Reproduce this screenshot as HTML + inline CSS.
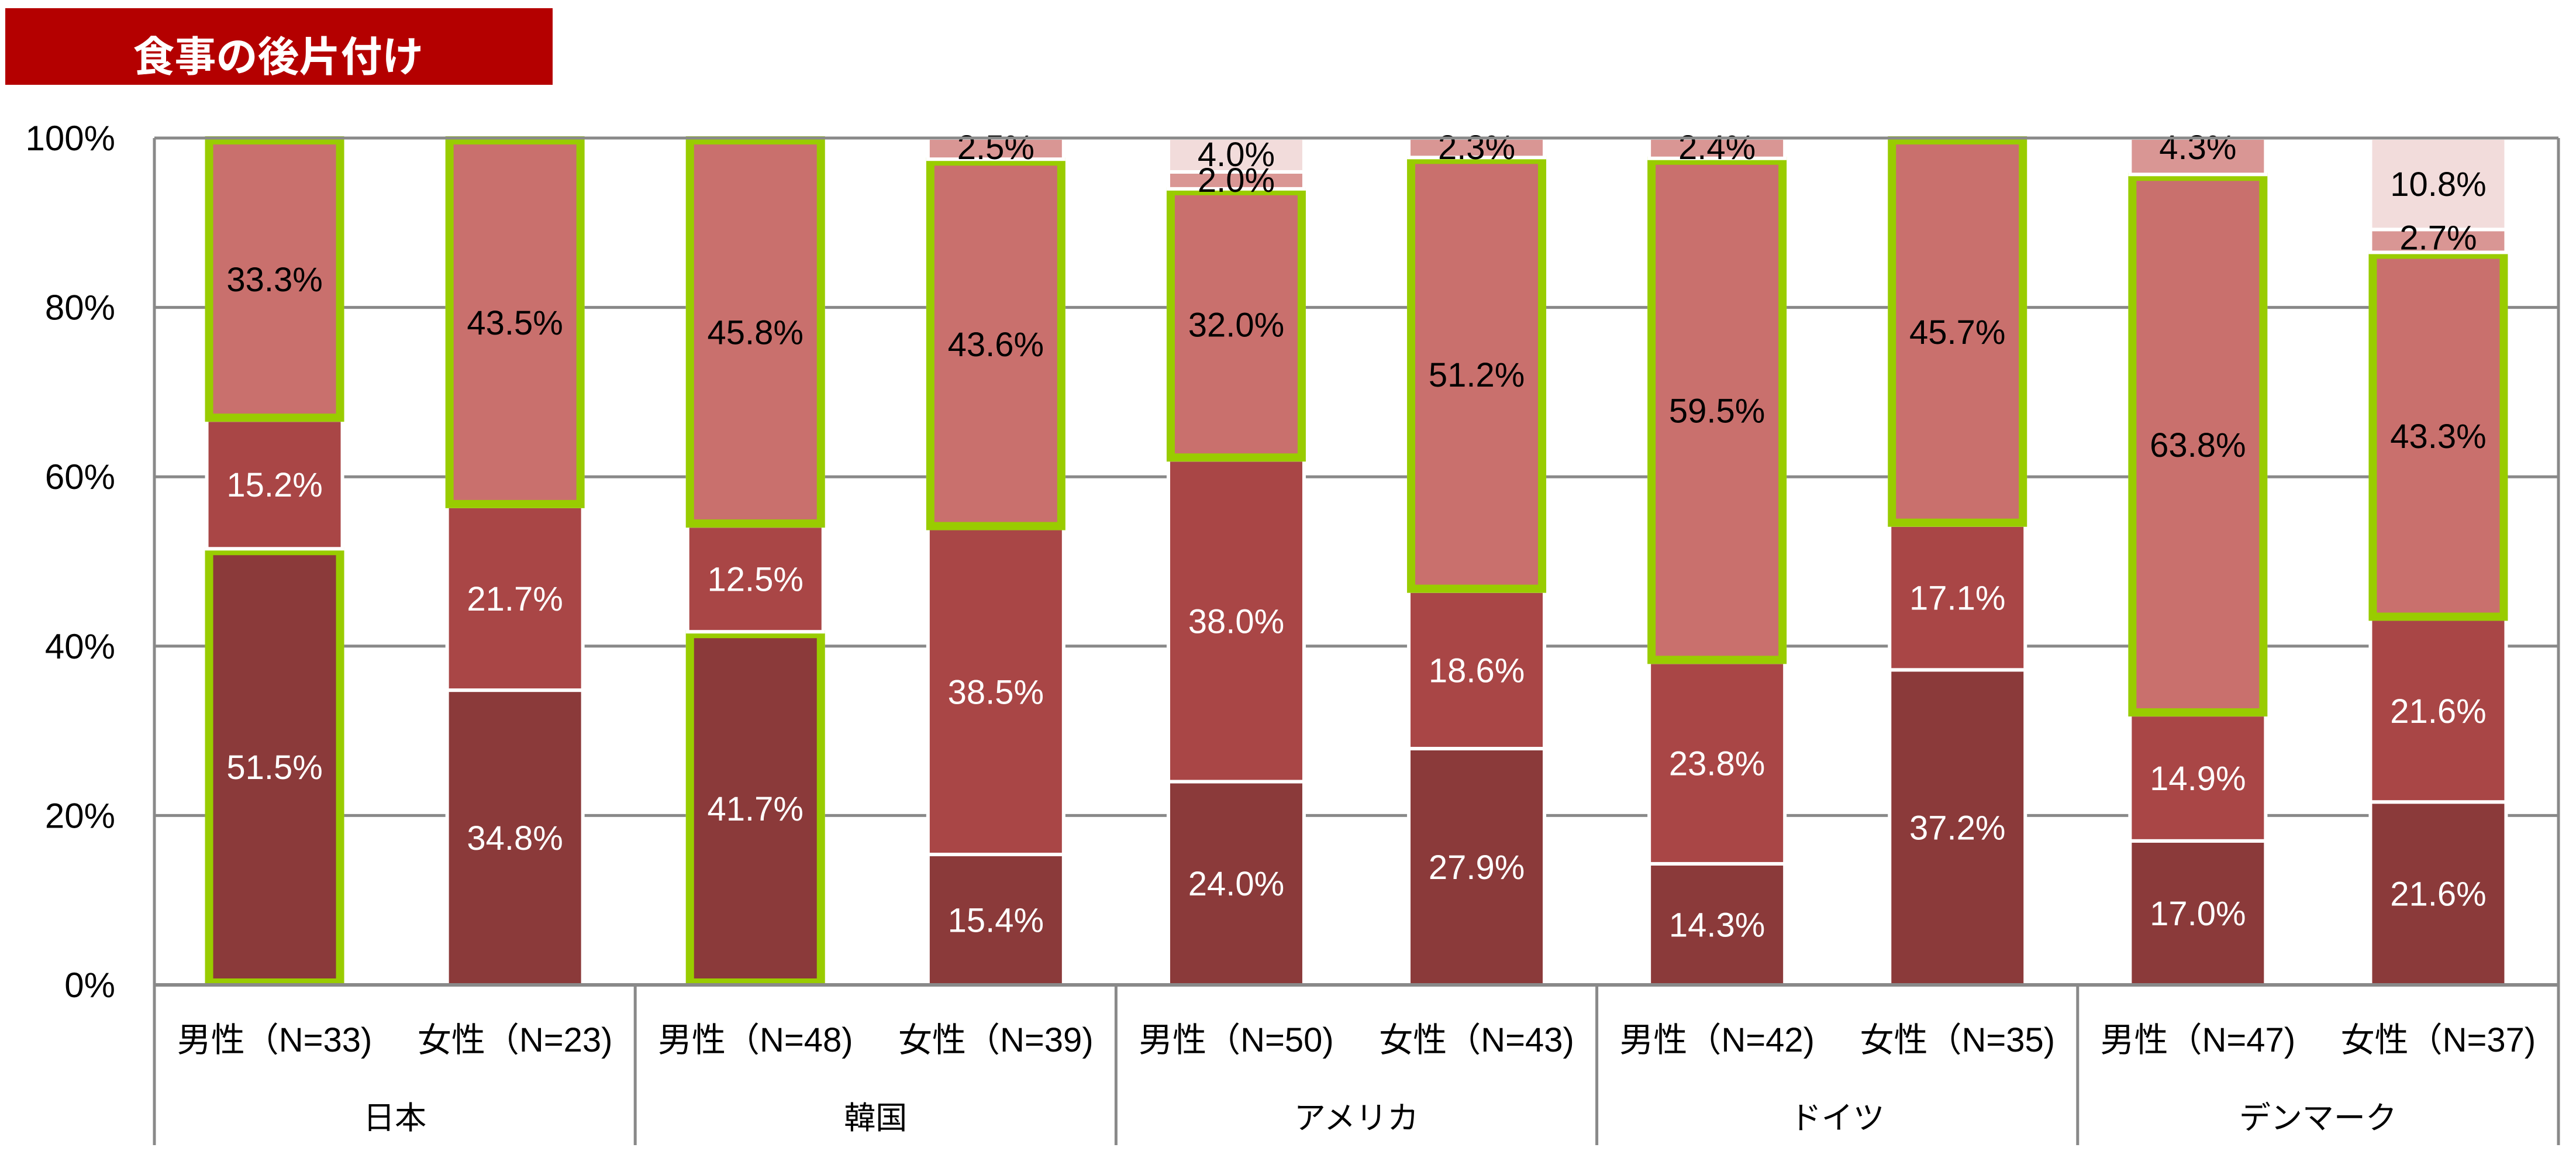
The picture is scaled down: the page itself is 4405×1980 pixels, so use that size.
<!DOCTYPE html>
<html><head><meta charset="utf-8"><style>
html,body{margin:0;padding:0;background:#fff;}
svg{display:block;}
text{font-family:"Liberation Sans","Noto Sans CJK JP",sans-serif;}
</style></head><body>
<svg id="chart" width="4405" height="1980" viewBox="0 0 4405 1980" xmlns="http://www.w3.org/2000/svg">
<rect x="9" y="14" width="936" height="131" fill="#B40000"/>
<text x="476" y="122" font-size="71" font-weight="bold" fill="#fff" text-anchor="middle" style="font-family:'Noto Sans CJK JP',sans-serif">食事の後片付け</text>
<g id="grid"></g><g id="bars"></g><g id="labels"></g><g id="axes"></g>
</svg>
<script>
const countries = ["日本","韓国","アメリカ","ドイツ","デンマーク"];
const subLabels = ["男性（N=33)","女性（N=23)","男性（N=48)","女性（N=39)","男性（N=50)","女性（N=43)","男性（N=42)","女性（N=35)","男性（N=47)","女性（N=37)"];
const series1 = [51.5,34.8,41.7,15.4,24.0,27.9,14.3,37.2,17.0,21.6];
const series2 = [15.2,21.7,12.5,38.5,38.0,18.6,23.8,17.1,14.9,21.6];
const series3 = [33.3,43.5,45.8,43.6,32.0,51.2,59.5,45.7,63.8,43.3];
const series4 = [0,0,0,2.5,2.0,2.3,2.4,0,4.3,2.7];
const series5 = [0,0,0,0,4.0,0,0,0,0,10.8];
const highlight1 = [1,0,1,0,0,0,0,0,0,0];
const highlight3 = [1,1,1,1,1,1,1,1,1,1];
const yTicks = [0,20,40,60,80,100];

const NS="http://www.w3.org/2000/svg";
const X0=264,X1=4375,Y0=1684,Y100=236,GW=(X1-X0)/5,BW=232;
const y=v=>Y0-(Y0-Y100)*v/100;
const xc=i=>X0+GW/2/2+i*GW/2;
function mk(tag,attrs,parent){const e=document.createElementNS(NS,tag);for(const k in attrs)e.setAttribute(k,attrs[k]);parent.appendChild(e);return e;}
const grid=document.getElementById('grid'),bars=document.getElementById('bars'),labels=document.getElementById('labels'),axes=document.getElementById('axes');
yTicks.forEach(t=>{
  if(t>0){const l=mk('line',{x1:X0,x2:X1,y1:y(t),y2:y(t),stroke:'#898989','stroke-width':5},grid);
  
  }
  const tx=mk('text',{x:197,y:y(t)+21,'font-size':60,'text-anchor':'end',fill:'#000'},labels);
  tx.textContent=t+'%';
  
  
});
const colors=['#8B3A3A','#A94646','#C9706D','#D99694','#F2DCDB'];
const txtCol=['#fff','#fff','#000','#000','#000'];
const all=[series1,series2,series3,series4,series5];
for(let i=0;i<10;i++){
  let base=0;const cx=xc(i);
  for(let s=0;s<5;s++){
    const v=all[s][i];if(!v)continue;
    const top=base+v;
    const r=mk('rect',{x:cx-BW/2,y:y(top),width:BW,height:y(base)-y(top),fill:colors[s],stroke:'#fff','stroke-width':6},bars);
    
    
    const hl=(s===0&&highlight1[i])||(s===2&&highlight3[i]);
    if(hl){const g=mk('rect',{x:cx-BW/2+4,y:y(top)+4,width:BW-8,height:y(base)-y(top)-8,fill:'none',stroke:'#99CC00','stroke-width':14},bars);
      
      }
    let ly=(y(base)+y(top))/2+21;
    if(s>=3&&v<5){ly=y(top)+ (s===4?48:34);}
    if(s===3&&series5[i]===0) ly=y(top)+36;
    const t=mk('text',{x:cx,y:ly,'font-size':58,'text-anchor':'middle',fill:txtCol[s]},labels);
    t.textContent=v.toFixed(1)+'%';
    
    
    base=top;
  }
  const sl=mk('text',{x:cx,y:1798,'font-size':58,'text-anchor':'middle',fill:'#000'},labels);
  sl.textContent=subLabels[i];
  
  
}
countries.forEach((c,k)=>{
  const t=mk('text',{x:X0+GW*(k+0.5),y:1930,'font-size':54,'text-anchor':'middle',fill:'#000'},labels);
  t.textContent=c;
  
  
});
for(let k=0;k<=5;k++){
  const xx=X0+GW*k;
  const l=mk('line',{x1:xx,x2:xx,y1:(k===0||k===5)?Y100:Y0,y2:1958,stroke:'#898989','stroke-width':5},axes);
  
  
}
const tl=mk('line',{x1:X0,x2:X1,y1:Y100,y2:Y100,stroke:'#898989','stroke-width':5},axes);


const xa=mk('line',{x1:X0,x2:X1,y1:Y0,y2:Y0,stroke:'#898989','stroke-width':6},axes);


</script>
</body></html>
